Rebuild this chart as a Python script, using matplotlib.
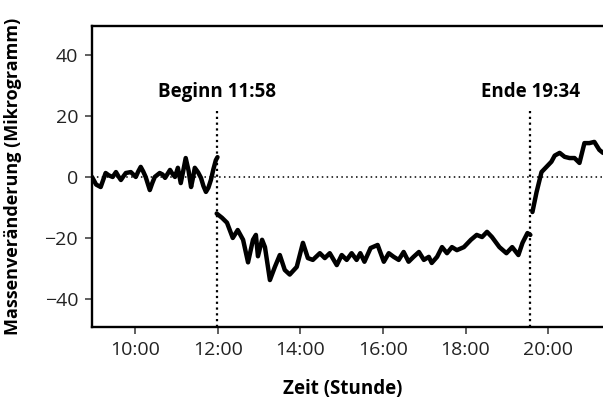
import matplotlib
matplotlib.use('Agg')
import matplotlib.pyplot as plt

plt.rcParams['font.family'] = ['Open Sans', 'DejaVu Sans']

# Messwerte vor dem Beginn (Stunden, Mikrogramm)
t_vor = [8.95, 9.05, 9.16, 9.22, 9.28, 9.36, 9.45, 9.53, 9.59, 9.65, 9.71, 9.77, 9.89,
         9.95, 10.01, 10.07, 10.13, 10.19, 10.25, 10.35, 10.41, 10.47, 10.59, 10.66,
         10.72, 10.78, 10.84, 10.90, 10.96, 11.03, 11.10, 11.16, 11.22, 11.29, 11.35,
         11.40, 11.44, 11.52, 11.59, 11.65, 11.71, 11.77, 11.83, 11.89, 11.95, 11.99]
m_vor = [0, -2.5, -3.3, -1, 1.3, 0.5, 0, 1.6, 0.2, -1, 0.2, 1.3, 1.6,
         0.8, 0, 1.8, 3.3, 1.8, 0, -4.3, -2, 0, 1.3, 0.8,
         -0.3, 1, 2.3, 1, 0, 3, -2, 2, 6.2, 2, -3.3,
         0, 3, 1.5, -0.3, -3, -4.9, -3.5, -1, 2.5, 5.5, 6.5]

# waehrend der Messung
t_mit = [11.97, 12.10, 12.22, 12.36, 12.48, 12.61, 12.73, 12.85, 12.92, 12.97, 13.07,
         13.14, 13.26, 13.38, 13.50, 13.62, 13.74, 13.91, 14.06, 14.18, 14.30, 14.47,
         14.59, 14.71, 14.88, 15.00, 15.12, 15.24, 15.36, 15.45, 15.55, 15.70, 15.87,
         16.02, 16.14, 16.26, 16.38, 16.50, 16.62, 16.74, 16.87, 16.99, 17.11, 17.18,
         17.31, 17.43, 17.55, 17.67, 17.79, 17.96, 18.13, 18.27, 18.40, 18.52, 18.64,
         18.82, 18.99, 19.13, 19.28, 19.38, 19.50, 19.57]
m_mit = [-12, -13.4, -15, -20, -17.4, -20.6, -28, -20.6, -19, -26, -20.6,
         -23, -33.8, -29.5, -25.6, -30.5, -32, -29.5, -21.6, -26.6, -27.2, -25,
         -26.6, -25, -28.9, -25.6, -27.2, -25, -27.2, -25, -27.8, -23.3, -22.3,
         -27.8, -25, -26.2, -27.2, -24.6, -27.8, -26.2, -24.6, -27.2, -26.2, -28.2,
         -26.2, -23, -25, -23, -24, -23, -20.6, -19, -19.7, -18, -19.7,
         -23, -25, -23, -25.6, -21.6, -18.4, -19]

# nach dem Ende
t_nach = [19.62, 19.72, 19.84, 19.96, 20.08, 20.16, 20.28, 20.40, 20.52, 20.64, 20.76,
          20.88, 21.00, 21.12, 21.24, 21.33]
m_nach = [-11.5, -5, 1.6, 3.3, 5, 7, 7.9, 6.6, 6.2, 6.2, 4.6,
          11.1, 11.1, 11.5, 8.9, 7.9]

beginn = 11 + 58 / 60
ende = 19 + 34 / 60

fig = plt.figure(figsize=(6.03, 4.0), dpi=100)
ax = fig.add_axes([0.1526, 0.1825, 0.8474, 0.7525])

ax.axhline(0, color='black', ls=(0, (1, 2.2)), lw=1.1, zorder=1)
for tx in (beginn, ende):
    ax.plot([tx, tx], [-49.2, 21.5], color='black', ls=(0, (1, 1.6)), lw=1.6, zorder=1)

for t, m in ((t_vor, m_vor), (t_mit, m_mit), (t_nach, m_nach)):
    ax.plot(t, m, color='black', lw=3.2, solid_joinstyle='round',
            solid_capstyle='round', zorder=3)

ax.text(beginn, 28, 'Beginn 11:58', ha='center', va='center',
        fontsize=13.5, fontweight='bold')
ax.text(ende, 28, 'Ende 19:34', ha='center', va='center',
        fontsize=13.5, fontweight='bold')

ax.set_xlim(8.95, 21.33)
ax.set_ylim(-49.2, 49.5)
ax.set_xticks([10, 12, 14, 16, 18, 20])
ax.set_xticklabels(['10:00', '12:00', '14:00', '16:00', '18:00', '20:00'])
ax.set_yticks([-40, -20, 0, 20, 40])
ax.set_yticklabels(['\u221240', '\u221220', '0', '20', '40'])

ax.spines['right'].set_visible(False)
for s in ('left', 'bottom', 'top'):
    ax.spines[s].set_linewidth(1.7)
ax.tick_params(direction='out', length=5, width=1.2, color='#444444',
               labelsize=14, labelcolor='#222222', pad=5)

ax.set_xlabel('Zeit (Stunde)', fontsize=13.5, fontweight='bold')
ax.set_ylabel('Massenveränderung (Mikrogramm)', fontsize=13, fontweight='bold')
ax.xaxis.set_label_coords(0.49, -0.172)
ax.yaxis.set_label_coords(-0.137, 0.5)

fig.savefig('out.png', dpi=100)
